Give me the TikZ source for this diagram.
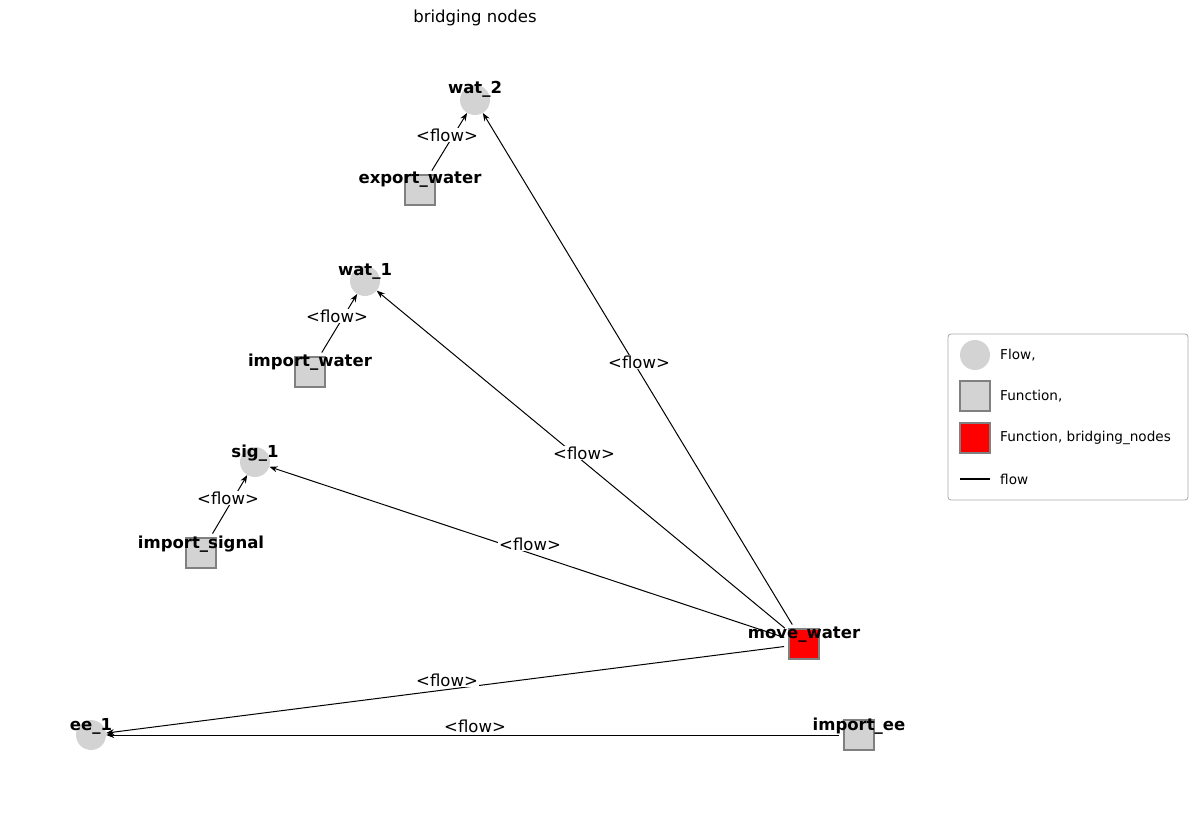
\documentclass[tikz,border=0pt]{standalone}
\usepackage{fontspec}
\setmainfont{DejaVu Sans}
\usetikzlibrary{arrows.meta}
\definecolor{lg}{HTML}{D3D3D3}
\definecolor{gb}{HTML}{808080}
\begin{document}
\begin{tikzpicture}[x=1pt,y=-1pt,
  flownode/.style={circle,fill=lg,minimum size=30pt,inner sep=0pt},
  funcnode/.style={rectangle,fill=lg,draw=gb,line width=2pt,minimum size=30pt,inner sep=0pt},
  bridgenode/.style={funcnode,fill=red},
  nlabel/.style={font=\fontsize{16.5}{18}\selectfont\bfseries,inner sep=0pt},
  elabel/.style={font=\fontsize{16.5}{18}\selectfont,fill=white,inner sep=1pt},
  edge/.style={-{Stealth[length=8pt,width=6pt]},line width=1pt,shorten <=4pt},
  legtext/.style={font=\fontsize{13.6}{15}\selectfont,anchor=west,inner sep=0pt}]
\useasboundingbox (0,0) rectangle (1197,812);
\node[font=\fontsize{16.5}{18}\selectfont] (title) at (475,18) {bridging nodes};
\node[flownode] (wat2) at (475,100) {};
\node[funcnode] (exw) at (420,190) {};
\node[flownode] (wat1) at (365,281) {};
\node[funcnode] (imw) at (310,372) {};
\node[flownode] (sig1) at (255,462) {};
\node[funcnode] (ims) at (201,553) {};
\node[bridgenode] (mw) at (804,644) {};
\node[flownode] (ee1) at (91,735) {};
\node[funcnode] (imee) at (859,735) {};
\draw[edge] (exw) -- (wat2);
\draw[edge] (imw) -- (wat1);
\draw[edge] (ims) -- (sig1);
\draw[edge] (mw) -- (wat2);
\draw[edge] (mw) -- (wat1);
\draw[edge] (mw) -- (sig1);
\draw[edge] (mw) -- (ee1);
\draw[edge] (imee) -- (ee1);
\foreach \n/\t/\x/\y in {wat2/wat\_2/475/89, exw/export\_water/420/180, wat1/wat\_1/365/271, imw/import\_water/310/362, sig1/sig\_1/255/453, ims/import\_signal/201/544, mw/move\_water/804/635, ee1/ee\_1/91/726, imee/import\_ee/859/726}
  \node[nlabel] (l\n) at (\x,\y) {\t};
\foreach \i/\x/\y in {1/447/135,2/337/316,3/228/498,4/639/362,5/584/453,6/530/544,7/447/680,8/475/726}
  \node[elabel] (e\i) at (\x,\y) {<flow>};
\draw[draw=lg!80!black,line width=0.8pt,rounded corners=3pt] (948,334) rectangle (1188,500);
\node[flownode] (lf) at (975,355) {};
\node[legtext] (lft) at (1000,355) {Flow,};
\node[funcnode] (lfn) at (975,396) {};
\node[legtext] (lfnt) at (1000,396) {Function,};
\node[bridgenode] (lb) at (975,438) {};
\node[legtext] (lbt) at (1000,438) {Function, bridging\_nodes};
\coordinate (la) at (960,479); \coordinate (lbb) at (990,479);
\draw[line width=1.5pt] (la) -- (lbb);
\node[legtext] (llt) at (1000,479) {flow};
\end{tikzpicture}
\end{document}
